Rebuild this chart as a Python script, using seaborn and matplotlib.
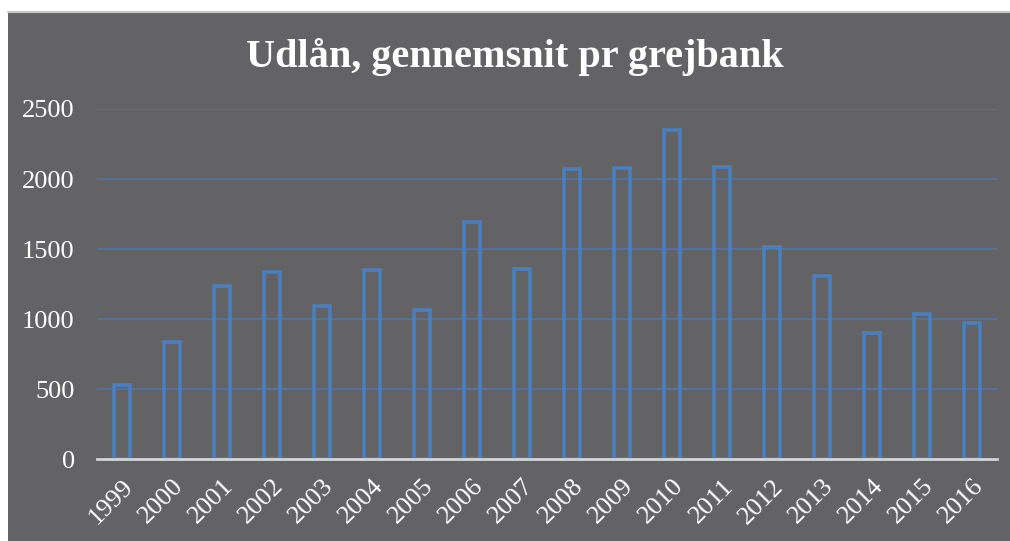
import matplotlib
matplotlib.use("Agg")
import matplotlib.pyplot as plt
import matplotlib.transforms as mtransforms
import seaborn as sns
import pandas as pd
from matplotlib.patches import Rectangle

# ---------------- DATA ----------------
years = [str(y) for y in range(1999, 2017)]
udlaan = [530, 835, 1235, 1340, 1095, 1350, 1065, 1690, 1360,
          2070, 2080, 2350, 2085, 1515, 1305, 900, 1040, 975]
y_ticks = [0, 500, 1000, 1500, 2000, 2500]
title = "Udlån, gennemsnit pr grejbank"

df = pd.DataFrame({"aar": years, "udlaan": udlaan})

# ---------------- STYLE ----------------
bg = "#636365"
bar_col = "#4a7fbf"
grid_col = "#52729c"
txt_col = "white"

sns.set_style("white")
plt.rcParams["font.family"] = ["Liberation Serif", "DejaVu Serif"]

fig = plt.figure(figsize=(10.1, 5.41), dpi=100, facecolor="white")
# dark chart area with thin grey edge on top (drawn behind the axes)
fig.patches.append(Rectangle((8 / 1010, 0), 1 - 8 / 1010, (541 - 12) / 541,
                             transform=fig.transFigure, facecolor=bg,
                             edgecolor="none", zorder=-2))
fig.lines.append(plt.Line2D([8 / 1010, 1], [(541 - 12) / 541] * 2,
                            transform=fig.transFigure, color="#c8c8c8",
                            lw=1.5, zorder=-1))

ax = fig.add_axes([97 / 1010, 81.7 / 541, 900 / 1010, (459.3 - 109) / 541])
ax.set_facecolor("none")

sns.barplot(data=df, x="aar", y="udlaan", ax=ax, color=bar_col, fill=False,
            width=0.32, linewidth=2.6, zorder=3)

ax.set_xlim(-0.5, len(years) - 0.5)
ax.set_ylim(0, 2500)
ax.set_yticks(y_ticks)
ax.set_yticklabels([str(t) for t in y_ticks])
ax.yaxis.grid(True, color=grid_col, lw=1.5, zorder=0)
ax.set_axisbelow(True)
ax.set_xlabel("")
ax.set_ylabel("")

for s in ["top", "right", "left"]:
    ax.spines[s].set_visible(False)
ax.spines["bottom"].set_color("#d4d4d4")
ax.spines["bottom"].set_linewidth(2)
ax.spines["bottom"].set_zorder(4)

ax.tick_params(axis="both", length=0, colors=txt_col, labelsize=19)
ax.tick_params(axis="y", pad=16)
ax.tick_params(axis="x", pad=17)
# nudge the slanted year labels a little to the right
shift = mtransforms.ScaledTranslation(8 / 100, 0, fig.dpi_scale_trans)
for lab in ax.get_xticklabels():
    lab.set_rotation(45)
    lab.set_ha("right")
    lab.set_va("center")
    lab.set_rotation_mode("anchor")
    lab.set_transform(lab.get_transform() + shift)

fig.text(515 / 1010, 1 - 57 / 541, title, color=txt_col, fontsize=29,
         fontweight="bold", ha="center", va="center")

fig.savefig("out.png", dpi=100, facecolor=fig.get_facecolor())
